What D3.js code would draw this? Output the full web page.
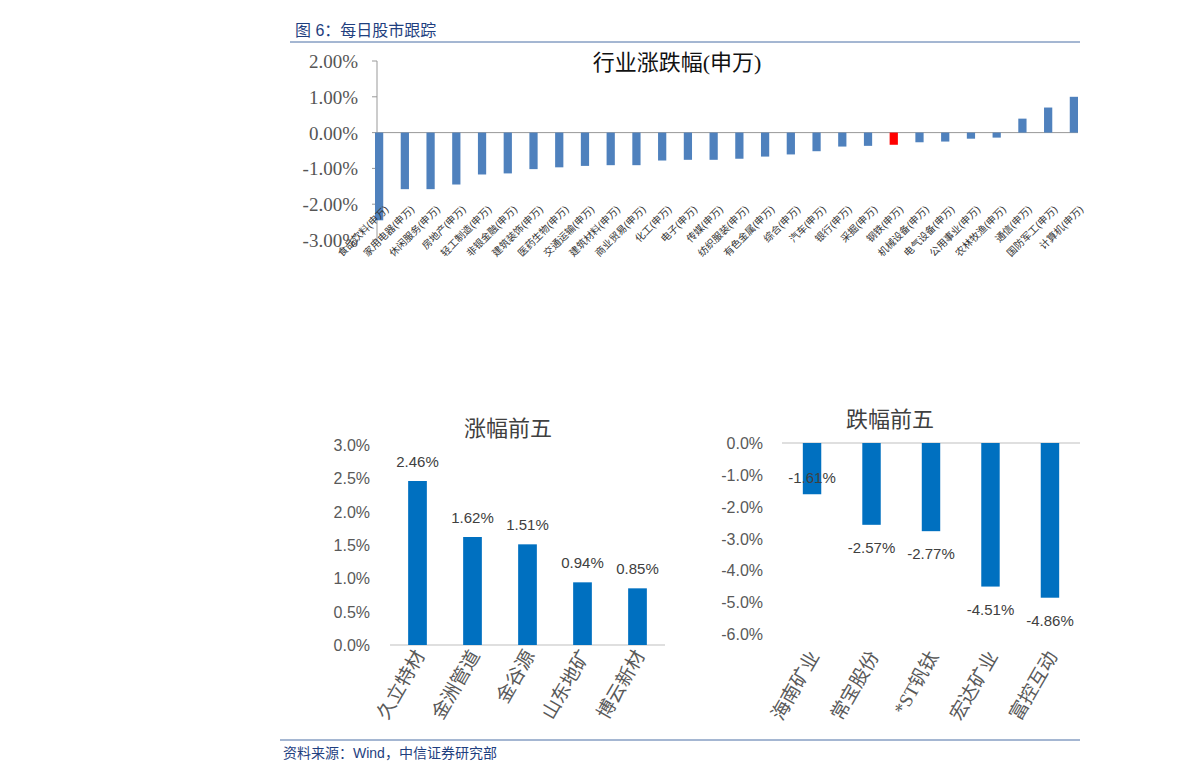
<!DOCTYPE html><html><head><meta charset="utf-8"><script src="https://cdn.jsdelivr.net/npm/d3@7"></script>
<style>body{margin:0;background:#fff}</style></head><body><svg id="c" width="1191" height="782"></svg>
<script>
const indCats=["食品饮料","家用电器","休闲服务","房地产","轻工制造","非银金融","建筑装饰","医药生物","交通运输","建筑材料","商业贸易","化工","电子","传媒","纺织服装","有色金属","综合","汽车","银行","采掘","钢铁","机械设备","电气设备","公用事业","农林牧渔","通信","国防军工","计算机"];
const indVals=[-2.45,-1.58,-1.58,-1.45,-1.17,-1.14,-1.02,-0.97,-0.93,-0.91,-0.91,-0.78,-0.76,-0.76,-0.73,-0.67,-0.61,-0.52,-0.39,-0.37,-0.34,-0.27,-0.25,-0.17,-0.14,0.39,0.70,1.00];
const topTicks=[2,1,0,-1,-2,-3];
const upCats=["久立特材","金洲管道","金谷源","山东地矿","博云新材"];
const upVals=[2.46,1.62,1.51,0.94,0.85];
const upTicks=[0,0.5,1,1.5,2,2.5,3];
const dnCats=["海南矿业","常宝股份","*ST钒钛","宏达矿业","富控互动"];
const dnVals=[-1.61,-2.57,-2.77,-4.51,-4.86];
const dnTicks=[0,-1,-2,-3,-4,-5,-6];

const svg=d3.select("#c");
const serif="'Liberation Serif','Noto Sans CJK SC',serif";
const sans="'Liberation Sans','Noto Sans CJK SC',sans-serif";
// header
svg.append("text").attr("x",295).attr("y",36).attr("font-family",sans).attr("font-size",16).attr("fill","#1f3f7f").text("图 6：每日股市跟踪");
svg.append("line").attr("x1",290).attr("x2",1080).attr("y1",42).attr("y2",42).attr("stroke","#4a6fa5");
svg.append("line").attr("x1",280).attr("x2",1080).attr("y1",740).attr("y2",740).attr("stroke","#4a6fa5");
svg.append("text").attr("x",283).attr("y",758).attr("font-family",sans).attr("font-size",14).attr("fill","#1f3f7f").text("资料来源：Wind，中信证券研究部");

// top chart
const ty=d3.scaleLinear().domain([-3,2]).range([240,61]);
const tx=d3.scaleBand().domain(indCats).range([375,1078]).paddingInner(0.68).paddingOuter(0.0);
const g1=svg.append("g");
g1.append("line").attr("x1",377).attr("x2",377).attr("y1",61).attr("y2",240).attr("stroke","#999");
topTicks.forEach(t=>{g1.append("line").attr("x1",372).attr("x2",377).attr("y1",ty(t)).attr("y2",ty(t)).attr("stroke","#999");
 g1.append("text").attr("x",358).attr("y",ty(t)+7).attr("text-anchor","end").attr("font-family",serif).attr("font-size",19).attr("fill","#555").text(t.toFixed(2)+"%");});
g1.append("line").attr("x1",377).attr("x2",1078).attr("y1",ty(0)).attr("y2",ty(0)).attr("stroke","#999");
g1.selectAll("rect").data(indCats).join("rect").attr("x",d=>tx(d)).attr("width",tx.bandwidth())
 .attr("y",(d,i)=>ty(Math.max(0,indVals[i]))).attr("height",(d,i)=>Math.abs(ty(indVals[i])-ty(0)))
 .attr("fill",d=>d==="钢铁"?"#ff0000":"#4f81bd");
g1.selectAll("text.c").data(indCats).join("text").attr("class","c")
 .attr("transform",d=>`translate(${tx(d)+tx.bandwidth()/2+10},${ty(-3)-30}) rotate(-45)`)
 .attr("text-anchor","end").attr("font-family",sans).attr("font-size",10).attr("fill","#333").text(d=>d+"(申万)");
g1.append("text").attr("x",677).attr("y",70).attr("text-anchor","middle").attr("font-family",serif).attr("font-size",22).attr("fill","#111").text("行业涨跌幅(申万)");

// bottom left
const ly=d3.scaleLinear().domain([0,3]).range([645,445]);
const lx=d3.scaleBand().domain(upCats).range([390,665]).paddingInner(0.66).paddingOuter(0.33);
const g2=svg.append("g");
upTicks.forEach(t=>g2.append("text").attr("x",370).attr("y",ly(t)+6).attr("text-anchor","end").attr("font-family",sans).attr("font-size",16).attr("fill","#595959").text(t.toFixed(1)+"%"));
g2.append("line").attr("x1",390).attr("x2",665).attr("y1",ly(0)).attr("y2",ly(0)).attr("stroke","#bfbfbf");
g2.selectAll("rect").data(upCats).join("rect").attr("x",d=>lx(d)).attr("width",lx.bandwidth())
 .attr("y",(d,i)=>ly(upVals[i])).attr("height",(d,i)=>ly(0)-ly(upVals[i])).attr("fill","#0070c0");
g2.selectAll("text.v").data(upCats).join("text").attr("class","v").attr("x",d=>lx(d)+lx.bandwidth()/2).attr("y",(d,i)=>ly(upVals[i])-14)
 .attr("text-anchor","middle").attr("font-family",sans).attr("font-size",15).attr("fill","#404040").text((d,i)=>upVals[i].toFixed(2)+"%");
g2.selectAll("text.c").data(upCats).join("text").attr("class","c")
 .attr("transform",d=>`translate(${lx(d)+lx.bandwidth()/2+8},${ly(0)+10}) rotate(-60)`)
 .attr("text-anchor","end").attr("font-family",serif).attr("font-size",19).attr("fill","#595959").text(d=>d);
g2.append("text").attr("x",508).attr("y",436).attr("text-anchor","middle").attr("font-family",sans).attr("font-size",22).attr("fill","#404040").text("涨幅前五");

// bottom right
const ry=d3.scaleLinear().domain([-6,0]).range([634,443]);
const rx=d3.scaleBand().domain(dnCats).range([782,1080]).paddingInner(0.69).paddingOuter(0.35);
const g3=svg.append("g");
dnTicks.forEach(t=>g3.append("text").attr("x",763).attr("y",ry(t)+6).attr("text-anchor","end").attr("font-family",sans).attr("font-size",16).attr("fill","#595959").text(t.toFixed(1)+"%"));
g3.append("line").attr("x1",782).attr("x2",1080).attr("y1",ry(0)).attr("y2",ry(0)).attr("stroke","#bfbfbf");
g3.selectAll("rect").data(dnCats).join("rect").attr("x",d=>rx(d)).attr("width",rx.bandwidth())
 .attr("y",ry(0)).attr("height",(d,i)=>ry(dnVals[i])-ry(0)).attr("fill","#0070c0");
g3.selectAll("text.v").data(dnCats).join("text").attr("class","v").attr("x",d=>rx(d)+rx.bandwidth()/2-(d==="海南矿业"?0:0)).attr("y",(d,i)=>i==0?ry(dnVals[i])-11:ry(dnVals[i])+28)
 .attr("text-anchor","middle").attr("font-family",sans).attr("font-size",15).attr("fill","#404040").text((d,i)=>dnVals[i].toFixed(2)+"%");
g3.selectAll("text.c").data(dnCats).join("text").attr("class","c")
 .attr("transform",d=>`translate(${rx(d)+rx.bandwidth()/2+8},${ry(-6)+22}) rotate(-60)`)
 .attr("text-anchor","end").attr("font-family",serif).attr("font-size",19).attr("fill","#595959").text(d=>d);
g3.append("text").attr("x",890).attr("y",427).attr("text-anchor","middle").attr("font-family",sans).attr("font-size",22).attr("fill","#404040").text("跌幅前五");
</script></body></html>
